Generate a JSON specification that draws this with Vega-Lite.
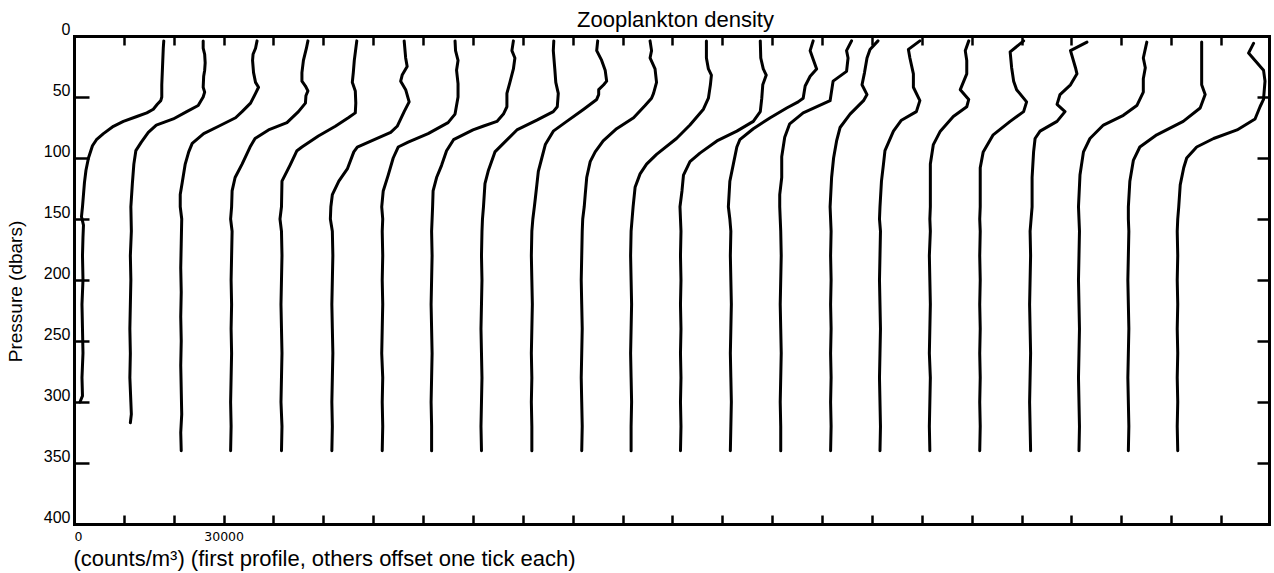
{
  "$schema": "https://vega.github.io/schema/vega-lite/v6.json",
  "width": 1195,
  "height": 488,
  "autosize": {"type": "none"},
  "padding": {"left": 74, "top": 36, "right": 5, "bottom": 49},
  "background": "white",
  "config": {
    "view": {"stroke": null},
    "axis": {
      "grid": false,
      "domainColor": "black",
      "domainWidth": 3,
      "domainCap": "square",
      "tickColor": "black",
      "tickWidth": 2.5,
      "labelColor": "black",
      "titleColor": "black"
    }
  },
  "data": {
    "values": [
      {"cast":0,"p":4,"c":18000},{"cast":0,"p":10,"c":17900},{"cast":0,"p":20,"c":17800},{"cast":0,"p":30,"c":17700},{"cast":0,"p":40,"c":17600},{"cast":0,"p":50,"c":17600},{"cast":0,"p":53,"c":17400},{"cast":0,"p":56,"c":16700},{"cast":0,"p":60,"c":15900},{"cast":0,"p":63,"c":14600},{"cast":0,"p":66,"c":12600},{"cast":0,"p":70,"c":9900},{"cast":0,"p":74,"c":7900},{"cast":0,"p":80,"c":5900},{"cast":0,"p":85,"c":4500},{"cast":0,"p":90,"c":3700},{"cast":0,"p":100,"c":2900},{"cast":0,"p":110,"c":2400},{"cast":0,"p":120,"c":2100},{"cast":0,"p":130,"c":1900},{"cast":0,"p":140,"c":1700},{"cast":0,"p":148,"c":1500},{"cast":0,"p":155,"c":1900},{"cast":0,"p":165,"c":1800},{"cast":0,"p":180,"c":1700},{"cast":0,"p":200,"c":1800},{"cast":0,"p":220,"c":1600},{"cast":0,"p":240,"c":1700},{"cast":0,"p":260,"c":1800},{"cast":0,"p":280,"c":1600},{"cast":0,"p":295,"c":1700},{"cast":0,"p":300,"c":1200},

      {"cast":1,"p":4,"c":25900},{"cast":1,"p":10,"c":25900},{"cast":1,"p":15,"c":26200},{"cast":1,"p":22,"c":26300},{"cast":1,"p":28,"c":26200},{"cast":1,"p":33,"c":26000},{"cast":1,"p":42,"c":25900},{"cast":1,"p":46,"c":26200},{"cast":1,"p":50,"c":25900},{"cast":1,"p":57,"c":24900},{"cast":1,"p":62,"c":22600},{"cast":1,"p":68,"c":19900},{"cast":1,"p":73,"c":16500},{"cast":1,"p":79,"c":14900},{"cast":1,"p":87,"c":13500},{"cast":1,"p":94,"c":12400},{"cast":1,"p":105,"c":12000},{"cast":1,"p":121,"c":11700},{"cast":1,"p":140,"c":11400},{"cast":1,"p":160,"c":11500},{"cast":1,"p":180,"c":11300},{"cast":1,"p":200,"c":11400},{"cast":1,"p":220,"c":11300},{"cast":1,"p":240,"c":11200},{"cast":1,"p":260,"c":11300},{"cast":1,"p":280,"c":11200},{"cast":1,"p":300,"c":11400},{"cast":1,"p":310,"c":11500},{"cast":1,"p":317,"c":11300},

      {"cast":2,"p":4,"c":36700},{"cast":2,"p":10,"c":36400},{"cast":2,"p":15,"c":35900},{"cast":2,"p":20,"c":35800},{"cast":2,"p":30,"c":36000},{"cast":2,"p":38,"c":36400},{"cast":2,"p":42,"c":37000},{"cast":2,"p":47,"c":36400},{"cast":2,"p":55,"c":35400},{"cast":2,"p":62,"c":33700},{"cast":2,"p":67,"c":32400},{"cast":2,"p":74,"c":29000},{"cast":2,"p":80,"c":26000},{"cast":2,"p":88,"c":23700},{"cast":2,"p":95,"c":23000},{"cast":2,"p":105,"c":22300},{"cast":2,"p":120,"c":21700},{"cast":2,"p":130,"c":21300},{"cast":2,"p":140,"c":21300},{"cast":2,"p":150,"c":21600},{"cast":2,"p":170,"c":21500},{"cast":2,"p":190,"c":21400},{"cast":2,"p":210,"c":21500},{"cast":2,"p":230,"c":21400},{"cast":2,"p":250,"c":21500},{"cast":2,"p":270,"c":21400},{"cast":2,"p":290,"c":21500},{"cast":2,"p":310,"c":21600},{"cast":2,"p":325,"c":21400},{"cast":2,"p":340,"c":21500},

      {"cast":3,"p":4,"c":46900},{"cast":3,"p":10,"c":46600},{"cast":3,"p":20,"c":46000},{"cast":3,"p":30,"c":45700},{"cast":3,"p":37,"c":45700},{"cast":3,"p":41,"c":46400},{"cast":3,"p":45,"c":46900},{"cast":3,"p":49,"c":46500},{"cast":3,"p":55,"c":46400},{"cast":3,"p":62,"c":45000},{"cast":3,"p":71,"c":42700},{"cast":3,"p":77,"c":39000},{"cast":3,"p":84,"c":36300},{"cast":3,"p":91,"c":35300},{"cast":3,"p":105,"c":33700},{"cast":3,"p":116,"c":32300},{"cast":3,"p":127,"c":31700},{"cast":3,"p":140,"c":31600},{"cast":3,"p":150,"c":31400},{"cast":3,"p":160,"c":31700},{"cast":3,"p":180,"c":31600},{"cast":3,"p":200,"c":31500},{"cast":3,"p":220,"c":31600},{"cast":3,"p":240,"c":31500},{"cast":3,"p":260,"c":31600},{"cast":3,"p":280,"c":31500},{"cast":3,"p":300,"c":31400},{"cast":3,"p":320,"c":31500},{"cast":3,"p":340,"c":31400},

      {"cast":4,"p":4,"c":56700},{"cast":4,"p":20,"c":56200},{"cast":4,"p":30,"c":56000},{"cast":4,"p":38,"c":55800},{"cast":4,"p":45,"c":56400},{"cast":4,"p":55,"c":56500},{"cast":4,"p":63,"c":56400},{"cast":4,"p":67,"c":55000},{"cast":4,"p":74,"c":52400},{"cast":4,"p":82,"c":49000},{"cast":4,"p":91,"c":45700},{"cast":4,"p":94,"c":44700},{"cast":4,"p":106,"c":43300},{"cast":4,"p":119,"c":41700},{"cast":4,"p":140,"c":41600},{"cast":4,"p":150,"c":41300},{"cast":4,"p":160,"c":41600},{"cast":4,"p":180,"c":41700},{"cast":4,"p":200,"c":41600},{"cast":4,"p":220,"c":41500},{"cast":4,"p":240,"c":41600},{"cast":4,"p":260,"c":41700},{"cast":4,"p":280,"c":41600},{"cast":4,"p":300,"c":41500},{"cast":4,"p":320,"c":41700},{"cast":4,"p":340,"c":41600},

      {"cast":5,"p":4,"c":66200},{"cast":5,"p":18,"c":66500},{"cast":5,"p":25,"c":66800},{"cast":5,"p":32,"c":65800},{"cast":5,"p":37,"c":65500},{"cast":5,"p":44,"c":66500},{"cast":5,"p":54,"c":67200},{"cast":5,"p":62,"c":66200},{"cast":5,"p":74,"c":64800},{"cast":5,"p":79,"c":63500},{"cast":5,"p":85,"c":60200},{"cast":5,"p":91,"c":56800},{"cast":5,"p":95,"c":56100},{"cast":5,"p":109,"c":54800},{"cast":5,"p":119,"c":53100},{"cast":5,"p":130,"c":51800},{"cast":5,"p":140,"c":51500},{"cast":5,"p":150,"c":51400},{"cast":5,"p":160,"c":51800},{"cast":5,"p":180,"c":51900},{"cast":5,"p":200,"c":51800},{"cast":5,"p":220,"c":51700},{"cast":5,"p":240,"c":51800},{"cast":5,"p":260,"c":51900},{"cast":5,"p":280,"c":51800},{"cast":5,"p":300,"c":51700},{"cast":5,"p":320,"c":51800},{"cast":5,"p":340,"c":51700},

      {"cast":6,"p":4,"c":76400},{"cast":6,"p":12,"c":76500},{"cast":6,"p":20,"c":77000},{"cast":6,"p":28,"c":76700},{"cast":6,"p":39,"c":77000},{"cast":6,"p":50,"c":77000},{"cast":6,"p":64,"c":76400},{"cast":6,"p":71,"c":75000},{"cast":6,"p":80,"c":71000},{"cast":6,"p":87,"c":67000},{"cast":6,"p":91,"c":65000},{"cast":6,"p":100,"c":64000},{"cast":6,"p":114,"c":63000},{"cast":6,"p":127,"c":62000},{"cast":6,"p":140,"c":61700},{"cast":6,"p":150,"c":61900},{"cast":6,"p":160,"c":61800},{"cast":6,"p":180,"c":61900},{"cast":6,"p":200,"c":61800},{"cast":6,"p":220,"c":61900},{"cast":6,"p":240,"c":61800},{"cast":6,"p":260,"c":61700},{"cast":6,"p":280,"c":61900},{"cast":6,"p":300,"c":61800},{"cast":6,"p":320,"c":61900},{"cast":6,"p":340,"c":61800},

      {"cast":7,"p":4,"c":88100},{"cast":7,"p":12,"c":87800},{"cast":7,"p":18,"c":88400},{"cast":7,"p":27,"c":88100},{"cast":7,"p":38,"c":87400},{"cast":7,"p":47,"c":86800},{"cast":7,"p":58,"c":86800},{"cast":7,"p":64,"c":86100},{"cast":7,"p":70,"c":84800},{"cast":7,"p":74,"c":82000},{"cast":7,"p":77,"c":80000},{"cast":7,"p":85,"c":76100},{"cast":7,"p":94,"c":74700},{"cast":7,"p":106,"c":73700},{"cast":7,"p":116,"c":72700},{"cast":7,"p":127,"c":72000},{"cast":7,"p":140,"c":71900},{"cast":7,"p":150,"c":71800},{"cast":7,"p":160,"c":71700},{"cast":7,"p":180,"c":71800},{"cast":7,"p":200,"c":71700},{"cast":7,"p":220,"c":71600},{"cast":7,"p":240,"c":71700},{"cast":7,"p":260,"c":71800},{"cast":7,"p":280,"c":71700},{"cast":7,"p":300,"c":71600},{"cast":7,"p":320,"c":71700},{"cast":7,"p":340,"c":71700},

      {"cast":8,"p":4,"c":96200},{"cast":8,"p":12,"c":96100},{"cast":8,"p":27,"c":96400},{"cast":8,"p":38,"c":96600},{"cast":8,"p":47,"c":97100},{"cast":8,"p":58,"c":96900},{"cast":8,"p":62,"c":96100},{"cast":8,"p":69,"c":92800},{"cast":8,"p":77,"c":88800},{"cast":8,"p":88,"c":86100},{"cast":8,"p":95,"c":84400},{"cast":8,"p":110,"c":83100},{"cast":8,"p":121,"c":82400},{"cast":8,"p":140,"c":82100},{"cast":8,"p":150,"c":81900},{"cast":8,"p":160,"c":81800},{"cast":8,"p":180,"c":81700},{"cast":8,"p":200,"c":81800},{"cast":8,"p":220,"c":81700},{"cast":8,"p":240,"c":81600},{"cast":8,"p":260,"c":81700},{"cast":8,"p":280,"c":81800},{"cast":8,"p":300,"c":81700},{"cast":8,"p":320,"c":81600},{"cast":8,"p":340,"c":81700},

      {"cast":9,"p":4,"c":105000},{"cast":9,"p":12,"c":104800},{"cast":9,"p":20,"c":105800},{"cast":9,"p":28,"c":106500},{"cast":9,"p":37,"c":106800},{"cast":9,"p":40,"c":106200},{"cast":9,"p":44,"c":105200},{"cast":9,"p":48,"c":105200},{"cast":9,"p":52,"c":104800},{"cast":9,"p":60,"c":102200},{"cast":9,"p":70,"c":98800},{"cast":9,"p":78,"c":96100},{"cast":9,"p":89,"c":94500},{"cast":9,"p":100,"c":93800},{"cast":9,"p":111,"c":93100},{"cast":9,"p":122,"c":92800},{"cast":9,"p":133,"c":92500},{"cast":9,"p":140,"c":92300},{"cast":9,"p":150,"c":92000},{"cast":9,"p":160,"c":91800},{"cast":9,"p":180,"c":91700},{"cast":9,"p":200,"c":91800},{"cast":9,"p":220,"c":91900},{"cast":9,"p":240,"c":91800},{"cast":9,"p":260,"c":91700},{"cast":9,"p":280,"c":91800},{"cast":9,"p":300,"c":91700},{"cast":9,"p":320,"c":91800},{"cast":9,"p":340,"c":91800},

      {"cast":10,"p":4,"c":115500},{"cast":10,"p":12,"c":115800},{"cast":10,"p":18,"c":115500},{"cast":10,"p":27,"c":116500},{"cast":10,"p":38,"c":116800},{"cast":10,"p":47,"c":116200},{"cast":10,"p":51,"c":115800},{"cast":10,"p":57,"c":114500},{"cast":10,"p":67,"c":112200},{"cast":10,"p":76,"c":108800},{"cast":10,"p":86,"c":106100},{"cast":10,"p":95,"c":104500},{"cast":10,"p":103,"c":103500},{"cast":10,"p":116,"c":102800},{"cast":10,"p":130,"c":102500},{"cast":10,"p":140,"c":102300},{"cast":10,"p":150,"c":102000},{"cast":10,"p":160,"c":101900},{"cast":10,"p":180,"c":101800},{"cast":10,"p":200,"c":101700},{"cast":10,"p":220,"c":101800},{"cast":10,"p":240,"c":101900},{"cast":10,"p":260,"c":101800},{"cast":10,"p":280,"c":101700},{"cast":10,"p":300,"c":101800},{"cast":10,"p":320,"c":101900},{"cast":10,"p":340,"c":101800},

      {"cast":11,"p":4,"c":126800},{"cast":11,"p":18,"c":126800},{"cast":11,"p":27,"c":127200},{"cast":11,"p":32,"c":127800},{"cast":11,"p":40,"c":127600},{"cast":11,"p":51,"c":127200},{"cast":11,"p":60,"c":126200},{"cast":11,"p":73,"c":123500},{"cast":11,"p":84,"c":120800},{"cast":11,"p":97,"c":116800},{"cast":11,"p":105,"c":114800},{"cast":11,"p":113,"c":113500},{"cast":11,"p":124,"c":112500},{"cast":11,"p":140,"c":112100},{"cast":11,"p":150,"c":111900},{"cast":11,"p":160,"c":111700},{"cast":11,"p":180,"c":111600},{"cast":11,"p":200,"c":111700},{"cast":11,"p":220,"c":111800},{"cast":11,"p":240,"c":111700},{"cast":11,"p":260,"c":111600},{"cast":11,"p":280,"c":111700},{"cast":11,"p":300,"c":111800},{"cast":11,"p":320,"c":111700},{"cast":11,"p":340,"c":111700},

      {"cast":12,"p":4,"c":137600},{"cast":12,"p":18,"c":137700},{"cast":12,"p":27,"c":138200},{"cast":12,"p":32,"c":138800},{"cast":12,"p":40,"c":138100},{"cast":12,"p":51,"c":137900},{"cast":12,"p":62,"c":137600},{"cast":12,"p":70,"c":136200},{"cast":12,"p":78,"c":132900},{"cast":12,"p":86,"c":128900},{"cast":12,"p":96,"c":125500},{"cast":12,"p":103,"c":123500},{"cast":12,"p":114,"c":122200},{"cast":12,"p":127,"c":121900},{"cast":12,"p":140,"c":121500},{"cast":12,"p":150,"c":121600},{"cast":12,"p":160,"c":121700},{"cast":12,"p":180,"c":121600},{"cast":12,"p":200,"c":121700},{"cast":12,"p":220,"c":121600},{"cast":12,"p":240,"c":121700},{"cast":12,"p":260,"c":121600},{"cast":12,"p":280,"c":121700},{"cast":12,"p":300,"c":121600},{"cast":12,"p":320,"c":121700},{"cast":12,"p":340,"c":121600},

      {"cast":13,"p":4,"c":148200},{"cast":13,"p":12,"c":147600},{"cast":13,"p":19,"c":148200},{"cast":13,"p":27,"c":148900},{"cast":13,"p":33,"c":147600},{"cast":13,"p":41,"c":146600},{"cast":13,"p":51,"c":146200},{"cast":13,"p":54,"c":145200},{"cast":13,"p":59,"c":142900},{"cast":13,"p":67,"c":139600},{"cast":13,"p":76,"c":136200},{"cast":13,"p":85,"c":133500},{"cast":13,"p":91,"c":132900},{"cast":13,"p":105,"c":132200},{"cast":13,"p":119,"c":131500},{"cast":13,"p":140,"c":131200},{"cast":13,"p":150,"c":131500},{"cast":13,"p":160,"c":131700},{"cast":13,"p":180,"c":131600},{"cast":13,"p":200,"c":131700},{"cast":13,"p":220,"c":131800},{"cast":13,"p":240,"c":131700},{"cast":13,"p":260,"c":131600},{"cast":13,"p":280,"c":131700},{"cast":13,"p":300,"c":131800},{"cast":13,"p":320,"c":131700},{"cast":13,"p":340,"c":131600},

      {"cast":14,"p":4,"c":155900},{"cast":14,"p":12,"c":154900},{"cast":14,"p":18,"c":155200},{"cast":14,"p":29,"c":154900},{"cast":14,"p":37,"c":152200},{"cast":14,"p":53,"c":151600},{"cast":14,"p":63,"c":146200},{"cast":14,"p":72,"c":143500},{"cast":14,"p":83,"c":142500},{"cast":14,"p":99,"c":141900},{"cast":14,"p":116,"c":141900},{"cast":14,"p":130,"c":141500},{"cast":14,"p":140,"c":141500},{"cast":14,"p":150,"c":141600},{"cast":14,"p":160,"c":141700},{"cast":14,"p":180,"c":141800},{"cast":14,"p":200,"c":141700},{"cast":14,"p":220,"c":141600},{"cast":14,"p":240,"c":141700},{"cast":14,"p":260,"c":141800},{"cast":14,"p":280,"c":141700},{"cast":14,"p":300,"c":141600},{"cast":14,"p":320,"c":141700},{"cast":14,"p":340,"c":141700},

      {"cast":15,"p":4,"c":161200},{"cast":15,"p":11,"c":159600},{"cast":15,"p":18,"c":159000},{"cast":15,"p":30,"c":158500},{"cast":15,"p":40,"c":158000},{"cast":15,"p":48,"c":159000},{"cast":15,"p":53,"c":158300},{"cast":15,"p":64,"c":155600},{"cast":15,"p":75,"c":153600},{"cast":15,"p":86,"c":152900},{"cast":15,"p":100,"c":152300},{"cast":15,"p":116,"c":151900},{"cast":15,"p":140,"c":151600},{"cast":15,"p":150,"c":151700},{"cast":15,"p":160,"c":151800},{"cast":15,"p":180,"c":151700},{"cast":15,"p":200,"c":151800},{"cast":15,"p":220,"c":151700},{"cast":15,"p":240,"c":151800},{"cast":15,"p":260,"c":151700},{"cast":15,"p":280,"c":151800},{"cast":15,"p":300,"c":151700},{"cast":15,"p":320,"c":151800},{"cast":15,"p":340,"c":151700},

      {"cast":16,"p":4,"c":169600},{"cast":16,"p":11,"c":167300},{"cast":16,"p":18,"c":167600},{"cast":16,"p":31,"c":168300},{"cast":16,"p":42,"c":168300},{"cast":16,"p":53,"c":169600},{"cast":16,"p":62,"c":168900},{"cast":16,"p":69,"c":165900},{"cast":16,"p":78,"c":164300},{"cast":16,"p":94,"c":162600},{"cast":16,"p":105,"c":162300},{"cast":16,"p":119,"c":161900},{"cast":16,"p":140,"c":161600},{"cast":16,"p":150,"c":161500},{"cast":16,"p":160,"c":161700},{"cast":16,"p":180,"c":161600},{"cast":16,"p":200,"c":161500},{"cast":16,"p":220,"c":161600},{"cast":16,"p":240,"c":161700},{"cast":16,"p":260,"c":161600},{"cast":16,"p":280,"c":161500},{"cast":16,"p":300,"c":161600},{"cast":16,"p":320,"c":161700},{"cast":16,"p":340,"c":161600},

      {"cast":17,"p":4,"c":179400},{"cast":17,"p":12,"c":178700},{"cast":17,"p":20,"c":179000},{"cast":17,"p":31,"c":179000},{"cast":17,"p":44,"c":177700},{"cast":17,"p":52,"c":179400},{"cast":17,"p":58,"c":179000},{"cast":17,"p":66,"c":176300},{"cast":17,"p":78,"c":173700},{"cast":17,"p":89,"c":172300},{"cast":17,"p":105,"c":171700},{"cast":17,"p":140,"c":171700},{"cast":17,"p":150,"c":171600},{"cast":17,"p":160,"c":171700},{"cast":17,"p":180,"c":171500},{"cast":17,"p":200,"c":171600},{"cast":17,"p":220,"c":171700},{"cast":17,"p":240,"c":171600},{"cast":17,"p":260,"c":171500},{"cast":17,"p":280,"c":171700},{"cast":17,"p":300,"c":171600},{"cast":17,"p":320,"c":171500},{"cast":17,"p":340,"c":171600},

      {"cast":18,"p":4,"c":190400},{"cast":18,"p":13,"c":187700},{"cast":18,"p":26,"c":188000},{"cast":18,"p":37,"c":188400},{"cast":18,"p":44,"c":189000},{"cast":18,"p":54,"c":191000},{"cast":18,"p":62,"c":190400},{"cast":18,"p":70,"c":187700},{"cast":18,"p":81,"c":184300},{"cast":18,"p":95,"c":182300},{"cast":18,"p":108,"c":181700},{"cast":18,"p":140,"c":181700},{"cast":18,"p":150,"c":181600},{"cast":18,"p":160,"c":181700},{"cast":18,"p":180,"c":181600},{"cast":18,"p":200,"c":181700},{"cast":18,"p":220,"c":181600},{"cast":18,"p":240,"c":181700},{"cast":18,"p":260,"c":181600},{"cast":18,"p":280,"c":181700},{"cast":18,"p":300,"c":181600},{"cast":18,"p":320,"c":181700},{"cast":18,"p":340,"c":181600},

      {"cast":19,"p":5,"c":203100},{"cast":19,"p":12,"c":199800},{"cast":19,"p":26,"c":200800},{"cast":19,"p":31,"c":201100},{"cast":19,"p":40,"c":199800},{"cast":19,"p":48,"c":197700},{"cast":19,"p":56,"c":197100},{"cast":19,"p":62,"c":198700},{"cast":19,"p":70,"c":197100},{"cast":19,"p":78,"c":193700},{"cast":19,"p":84,"c":192700},{"cast":19,"p":95,"c":192400},{"cast":19,"p":116,"c":192100},{"cast":19,"p":140,"c":192100},{"cast":19,"p":150,"c":191900},{"cast":19,"p":160,"c":191700},{"cast":19,"p":180,"c":191800},{"cast":19,"p":200,"c":191700},{"cast":19,"p":220,"c":191600},{"cast":19,"p":240,"c":191700},{"cast":19,"p":260,"c":191800},{"cast":19,"p":280,"c":191700},{"cast":19,"p":300,"c":191600},{"cast":19,"p":320,"c":191700},{"cast":19,"p":340,"c":191800},

      {"cast":20,"p":5,"c":215100},{"cast":20,"p":18,"c":214400},{"cast":20,"p":26,"c":214800},{"cast":20,"p":35,"c":214400},{"cast":20,"p":46,"c":214400},{"cast":20,"p":57,"c":213100},{"cast":20,"p":65,"c":210400},{"cast":20,"p":73,"c":206400},{"cast":20,"p":84,"c":203700},{"cast":20,"p":95,"c":202400},{"cast":20,"p":114,"c":201700},{"cast":20,"p":140,"c":201400},{"cast":20,"p":150,"c":201500},{"cast":20,"p":160,"c":201600},{"cast":20,"p":180,"c":201500},{"cast":20,"p":200,"c":201400},{"cast":20,"p":220,"c":201500},{"cast":20,"p":240,"c":201600},{"cast":20,"p":260,"c":201500},{"cast":20,"p":280,"c":201400},{"cast":20,"p":300,"c":201500},{"cast":20,"p":320,"c":201600},{"cast":20,"p":340,"c":201500},

      {"cast":21,"p":5,"c":226100},{"cast":21,"p":18,"c":226100},{"cast":21,"p":40,"c":226100},{"cast":21,"p":48,"c":226800},{"cast":21,"p":59,"c":225800},{"cast":21,"p":70,"c":222400},{"cast":21,"p":81,"c":217100},{"cast":21,"p":91,"c":213700},{"cast":21,"p":102,"c":212400},{"cast":21,"p":119,"c":211700},{"cast":21,"p":140,"c":211400},{"cast":21,"p":150,"c":211400},{"cast":21,"p":160,"c":211500},{"cast":21,"p":180,"c":211400},{"cast":21,"p":200,"c":211300},{"cast":21,"p":220,"c":211400},{"cast":21,"p":240,"c":211500},{"cast":21,"p":260,"c":211400},{"cast":21,"p":280,"c":211300},{"cast":21,"p":300,"c":211400},{"cast":21,"p":320,"c":211500},{"cast":21,"p":340,"c":211400},

      {"cast":22,"p":6,"c":236500},{"cast":22,"p":14,"c":235500},{"cast":22,"p":28,"c":238500},{"cast":22,"p":37,"c":238800},{"cast":22,"p":52,"c":238500},{"cast":22,"p":58,"c":237800},{"cast":22,"p":68,"c":236800},{"cast":22,"p":77,"c":233200},{"cast":22,"p":84,"c":228500},{"cast":22,"p":91,"c":225100},{"cast":22,"p":100,"c":223100},{"cast":22,"p":108,"c":222500},{"cast":22,"p":122,"c":221800},{"cast":22,"p":140,"c":221500},{"cast":22,"p":150,"c":221300},{"cast":22,"p":160,"c":221200},{"cast":22,"p":180,"c":221300},{"cast":22,"p":200,"c":221200},{"cast":22,"p":220,"c":221300},{"cast":22,"p":240,"c":221200},{"cast":22,"p":260,"c":221300},{"cast":22,"p":280,"c":221200},{"cast":22,"p":300,"c":221300},{"cast":22,"p":320,"c":221200},{"cast":22,"p":340,"c":221300}
    ]
  },
  "layer": [
    {
      "transform": [{"filter": "datum.cast < 12"}],
      "mark": {"type": "line", "color": "black", "strokeWidth": 3, "strokeJoin": "round", "strokeCap": "round"},
      "encoding": {
        "x": {
          "field": "c", "type": "quantitative",
          "scale": {"domain": [0, 239600], "nice": false, "zero": false},
          "axis": {
            "orient": "bottom",
            "values": [0,10000,20000,30000,40000,50000,60000,70000,80000,90000,100000,110000,120000,130000,140000,150000,160000,170000,180000,190000,200000,210000,220000,230000],
            "tickSize": -9,
            "labelPadding": 15,
            "labelFont": "DejaVu Sans",
            "labelFontSize": 12.5,
            "labelExpr": "datum.value == 0 ? '0' : (datum.value == 30000 ? '30000' : '')",
            "labelFlush": true,
            "labelOverlap": false,
            "title": "(counts/m³) (first profile, others offset one tick each)",
            "titleFont": "Liberation Sans",
            "titleFontSize": 22,
            "titleFontWeight": "normal",
            "titleX": -1,
            "titleY": 41,
            "titleAlign": "left",
            "titleBaseline": "alphabetic"
          }
        },
        "y": {
          "field": "p", "type": "quantitative",
          "scale": {"domain": [0, 400], "reverse": true, "nice": false, "zero": false},
          "axis": {
            "orient": "left",
            "values": [0,50,100,150,200,250,300,350,400],
            "tickSize": -15,
            "labelPadding": 19,
            "labelFont": "Liberation Sans",
            "labelFontSize": 16,
            "labelBaseline": "alphabetic",
            "labelOffset": -2,
            "labelFlush": false,
            "labelOverlap": false,
            "title": "Pressure (dbars)",
            "titleFont": "Liberation Sans",
            "titleFontSize": 19,
            "titleFontWeight": "normal",
            "titleAngle": -90,
            "titleX": -53,
            "titleY": 255,
            "titleAlign": "center",
            "titleBaseline": "alphabetic"
          }
        },
        "detail": {"field": "cast", "type": "nominal"},
        "order": {"field": "p", "type": "quantitative"}
      }
    },
    {
      "transform": [{"filter": "datum.cast >= 12"}],
      "mark": {"type": "line", "color": "black", "strokeWidth": 3, "strokeJoin": "round", "strokeCap": "round"},
      "encoding": {
        "x": {
          "field": "c", "type": "quantitative",
          "scale": {"domain": [0, 239600], "nice": false, "zero": false},
          "axis": {
            "orient": "top",
            "values": [0,10000,20000,30000,40000,50000,60000,70000,80000,90000,100000,110000,120000,130000,140000,150000,160000,170000,180000,190000,200000,210000,220000,230000],
            "tickSize": -9,
            "labels": false,
            "title": "Zooplankton density",
            "titleFont": "Liberation Sans",
            "titleFontSize": 22,
            "titleFontWeight": "normal",
            "titleX": 601,
            "titleY": -10,
            "titleAlign": "center",
            "titleBaseline": "alphabetic"
          }
        },
        "y": {
          "field": "p", "type": "quantitative",
          "scale": {"domain": [0, 400], "reverse": true, "nice": false, "zero": false},
          "axis": {
            "orient": "right",
            "values": [0,50,100,150,200,250,300,350,400],
            "tickSize": -12,
            "labels": false,
            "title": null
          }
        },
        "detail": {"field": "cast", "type": "nominal"},
        "order": {"field": "p", "type": "quantitative"}
      }
    }
  ]
}
